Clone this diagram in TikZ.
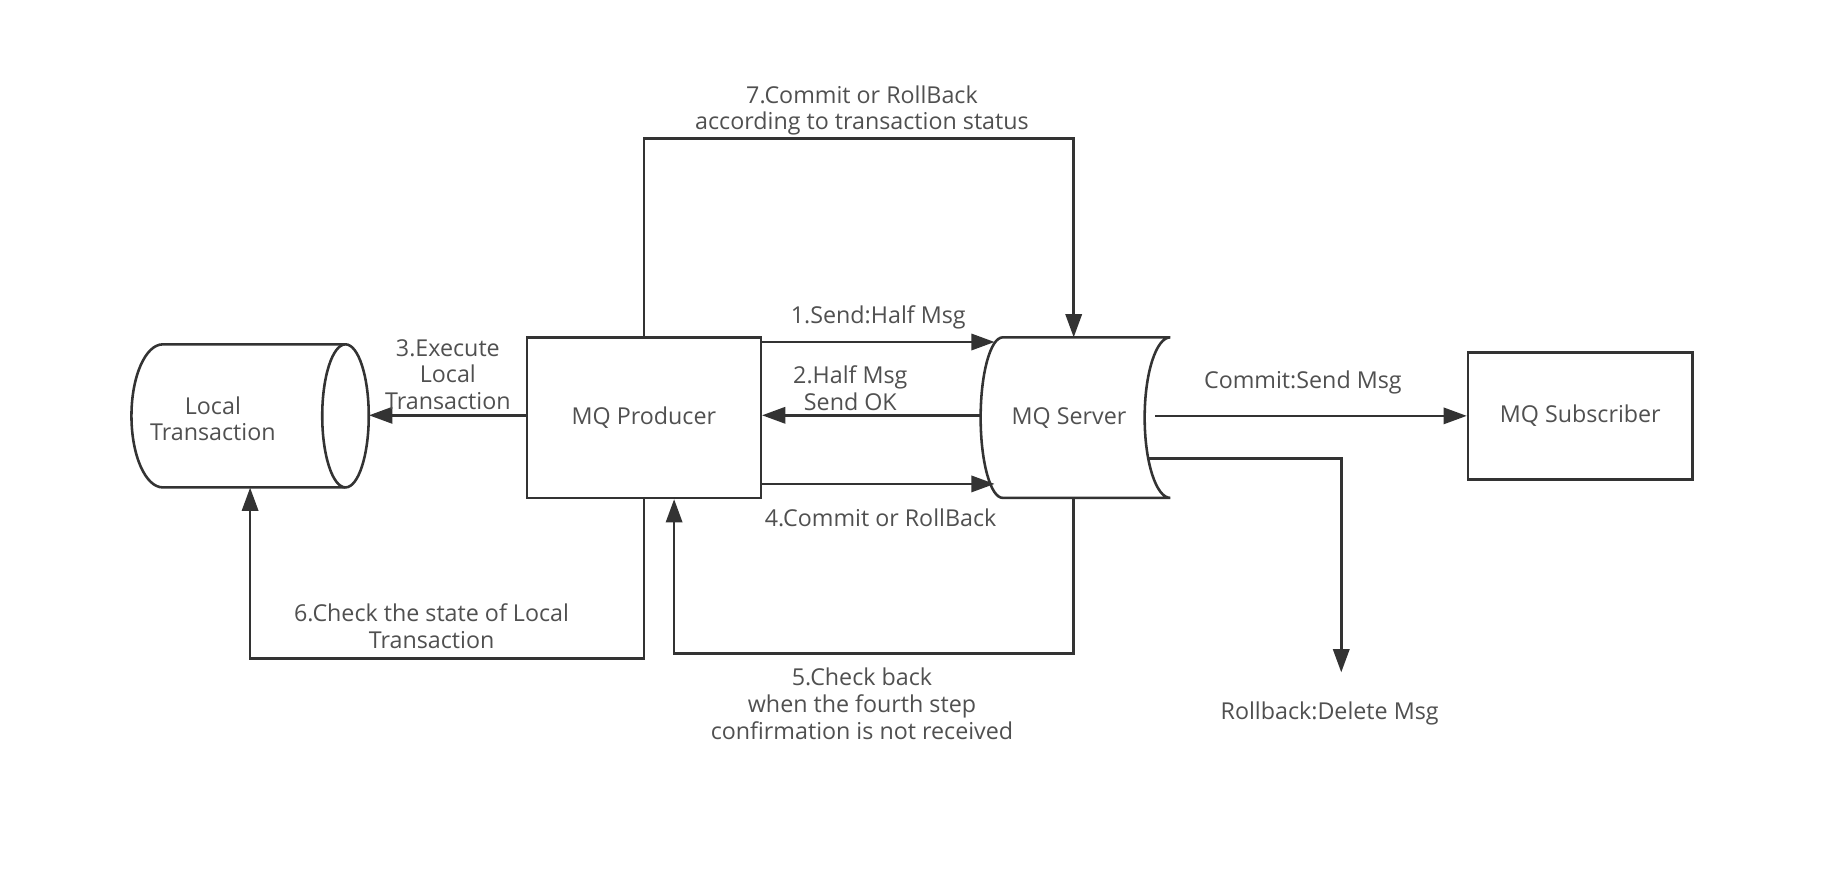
\documentclass[tikz,border=0pt]{standalone}
\usepackage{fontspec}
\setmainfont{Open Sans}
\usetikzlibrary{arrows.meta}
\definecolor{lc}{HTML}{333333}
\definecolor{tc}{HTML}{505050}
\begin{document}
\begin{tikzpicture}[x=1pt,y=-1pt,
  line/.style={draw=lc, line width=2.2pt},
  arr/.style={line, -{Triangle[length=20pt,width=14pt]}},
  lbl/.style={text=tc, font=\fontsize{20}{23}\selectfont, align=center, inner sep=0pt},
  box/.style={draw=lc, line width=2.2pt, fill=white, text=tc, font=\fontsize{20}{23}\selectfont, align=center, inner sep=0pt}]
\fill[white] (0,0) rectangle (1568,753);
\useasboundingbox (0,0) rectangle (1568,753);

% Local Transaction cylinder
\draw[line, fill=white] (297,296) -- (140,296) arc[start angle=270, end angle=90, x radius=27, y radius=61.5] -- (297,419);
\draw[line] (297,357.5) ellipse[x radius=20, y radius=61.5];
\node[lbl, minimum width=204pt, minimum height=123pt] (lt) at (215,357.5) {};
\node[lbl] (ltt) at (183,360) {Local\\Transaction};

% MQ Producer
\node[box, minimum width=201pt, minimum height=138pt] (prod) at (553.5,359) {MQ Producer};

% MQ Server
\draw[line, fill=white] (862,290) -- (1006,290) arc[start angle=270, end angle=90, x radius=22, y radius=69] -- (862,428) arc[start angle=90, end angle=270, x radius=19, y radius=69] -- cycle;
\node[lbl] (srv) at (919,359.5) {MQ Server};
\coordinate (srvT) at (923,290);
\coordinate (srvB) at (923,428);
\coordinate (s1) at (855,294);
\coordinate (s2) at (844,357);
\coordinate (s4) at (855,416);
\coordinate (srvR) at (993,357.5);
\coordinate (srvR2) at (987,394);
\coordinate (rbend) at (1153,578);

% MQ Subscriber
\node[box, minimum width=193pt, minimum height=109pt] (sub) at (1358.5,357.5) {MQ Subscriber};

% connectors
\draw[arr] (prod.east |- s1) -- (s1);
\draw[arr] (s2) -- (prod.east |- s2);
\draw[arr] (prod.west |- s2) -- (lt.east |- s2);
\draw[arr] (prod.east |- s4) -- (s4);
\draw[arr] (srvB) -- ++(0,134) -| ([xshift=26pt]prod.south);
\draw[arr] (prod.south) -- ++(0,137) -| (lt.south);
\draw[arr] (prod.north) -- ++(0,-170) -| (srvT);
\draw[arr] (srvR) -- (sub.west);
\draw[arr] (srvR2) -| (rbend);

% labels
\node[lbl] (l7) at (741,95) {7.Commit or RollBack\\according to transaction status};
\node[lbl] (l1) at (755,273) {1.Send:Half Msg};
\node[lbl] (l2) at (731,334) {2.Half Msg\\Send OK};
\node[lbl] (l3) at (385,322) {3.Execute\\Local\\Transaction};
\node[lbl] (l4) at (757,445) {4.Commit or RollBack};
\node[lbl] (l5) at (741,605) {5.Check back\\when the fourth step\\confirmation is not received};
\node[lbl] (l6) at (371,538) {6.Check the state of Local\\Transaction};
\node[lbl] (lc1) at (1120,329) {Commit:Send Msg};
\node[lbl] (lr) at (1143,613) {Rollback:Delete Msg};
\end{tikzpicture}
\end{document}
